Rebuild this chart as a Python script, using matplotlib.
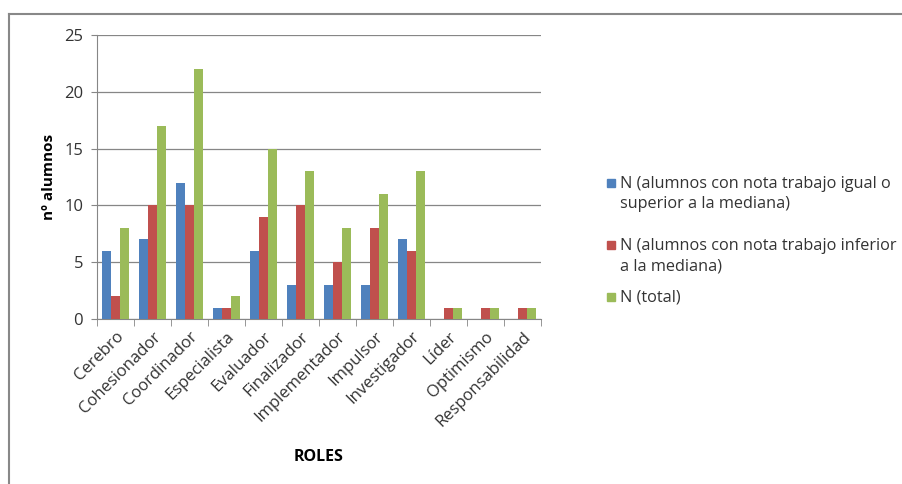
import matplotlib
matplotlib.use("Agg")
import matplotlib.pyplot as plt
import numpy as np
from matplotlib.lines import Line2D
from matplotlib.patches import Rectangle

roles = ["Cerebro", "Cohesionador", "Coordinador", "Especialista", "Evaluador",
         "Finalizador", "Implementador", "Impulsor", "Investigador", "Líder",
         "Optimismo", "Responsabilidad"]
n_sup = [6, 7, 12, 1, 6, 3, 3, 3, 7, 0, 0, 0]
n_inf = [2, 10, 10, 1, 9, 10, 5, 8, 6, 1, 1, 1]
n_total = [8, 17, 22, 2, 15, 13, 8, 11, 13, 1, 1, 1]
labels = ["N (alumnos con nota trabajo igual o\nsuperior a la mediana)",
          "N (alumnos con nota trabajo inferior\na la mediana)",
          "N (total)"]

plt.rcParams["font.family"] = ["Open Sans", "DejaVu Sans"]
COLORS = ["#4F81BD", "#C0504D", "#9BBB59"]
GRID = "#868686"
TXT = "#333333"

W, H = 903, 484
fig = plt.figure(figsize=(W / 100, H / 100), dpi=100)
ax = fig.add_axes([97 / W, 1 - 319 / H, 444 / W, 284 / H])

x = np.arange(len(roles))
w = 0.235
for i, (vals, c, lab) in enumerate(zip([n_sup, n_inf, n_total], COLORS, labels)):
    ax.bar(x + (i - 1) * w, vals, width=w, color=c, label=lab, zorder=3)

ax.set_xlim(-0.5, len(roles) - 0.5)
ax.set_ylim(0, 25)
ax.set_yticks(range(0, 26, 5))
ax.grid(axis="y", color=GRID, lw=0.9, zorder=0)
for s in ["top", "right"]:
    ax.spines[s].set_visible(False)
ax.spines["left"].set_color(GRID)
ax.spines["bottom"].set_color(GRID)
ax.tick_params(axis="y", length=4, color=GRID, labelsize=12, labelcolor=TXT, pad=6)
ax.set_xticks(x)
ax.set_xticklabels(roles, rotation=45, ha="right", rotation_mode="anchor",
                   fontsize=12, color=TXT)
ax.tick_params(axis="x", length=0, pad=7)
ax.set_xticks(np.arange(-0.5, len(roles)), minor=True)
ax.tick_params(axis="x", which="minor", length=5, color=GRID)

ax.set_ylabel("nº alumnos", fontsize=11, fontweight="bold", labelpad=6)
ax.set_xlabel("ROLES", fontsize=11.5, fontweight="bold", labelpad=14)

# legend drawn by hand so wrapped entries line up like the original
marker_y = [183, 245, 297]
text_y = [194, 256, 297]
for c, lab, my, ty in zip(COLORS, labels, marker_y, text_y):
    fig.add_artist(Rectangle((607 / W, 1 - (my + 4) / H), 8 / W, 8 / H,
                             transform=fig.transFigure, color=c))
    fig.text(620 / W, 1 - ty / H, lab, fontsize=11.7, color=TXT,
             va="center", ha="left", linespacing=1.35)

# outer chart border
fig.add_artist(Line2D([8.5 / W, 8.5 / W], [0, 1 - 14 / H],
                      transform=fig.transFigure, color="#888888", lw=1.5))
fig.add_artist(Line2D([8.5 / W, 1], [1 - 14 / H, 1 - 14 / H],
                      transform=fig.transFigure, color="#888888", lw=1.5))

fig.savefig("out.png", dpi=100)
